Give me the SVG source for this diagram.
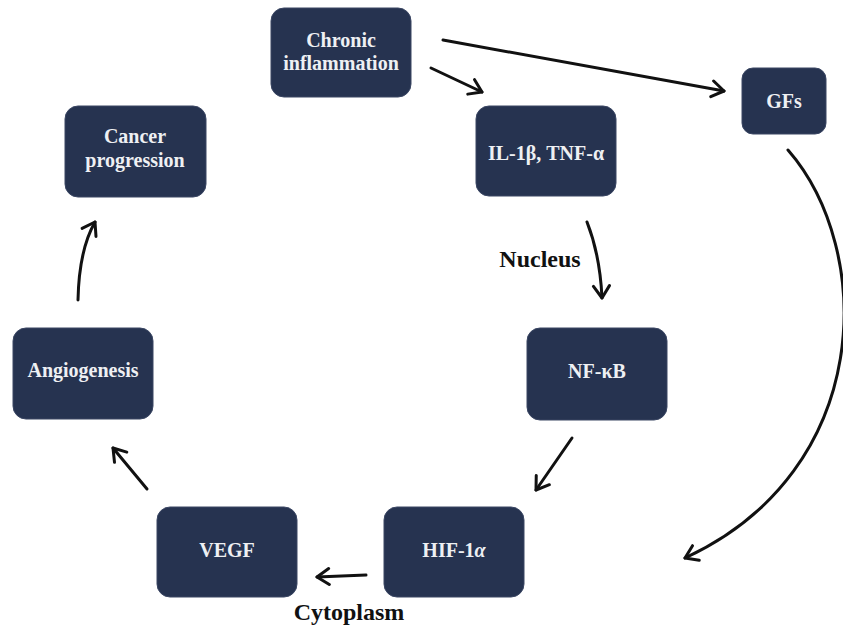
<svg xmlns="http://www.w3.org/2000/svg" width="843" height="631" viewBox="0 0 843 631">
<defs>
<marker id="ah" viewBox="-14 -10 16 20" refX="0" refY="0" markerWidth="16" markerHeight="20" markerUnits="userSpaceOnUse" orient="auto">
<path d="M-12,-8 L0,0 L-12,8" fill="none" stroke="#111" stroke-width="3" stroke-linecap="round" stroke-linejoin="round"/>
</marker>
<style>
.box{fill:#263350;stroke:#3a4663;stroke-width:1}
.t{font-family:"Liberation Serif","Times New Roman",serif;font-weight:bold;font-size:20px;fill:#eef0f3;text-anchor:middle}
.lbl{font-family:"Liberation Serif","Times New Roman",serif;font-weight:bold;font-size:24px;fill:#111;text-anchor:middle}
.c{fill:none;stroke:#111;stroke-width:3;stroke-linecap:round;marker-end:url(#ah)}
</style>
</defs>
<rect width="843" height="631" fill="#fff"/>
<g id="chronic"><rect class="box" x="271" y="8" width="140" height="89" rx="13"/><text class="t" x="341" y="47">Chronic</text><text class="t" x="341" y="70">inflammation</text></g>
<g id="il1"><rect class="box" x="476" y="106" width="140" height="90" rx="13"/><text class="t" x="546" y="160">IL-1β, TNF-α</text></g>
<g id="gfs"><rect class="box" x="742" y="68" width="84" height="66" rx="11"/><text class="t" x="784" y="108">GFs</text></g>
<g id="cancer"><rect class="box" x="65" y="106" width="141" height="91" rx="13"/><text class="t" x="135" y="143">Cancer</text><text class="t" x="135" y="167">progression</text></g>
<g id="angio"><rect class="box" x="13" y="328" width="140" height="91" rx="13"/><text class="t" x="83" y="377">Angiogenesis</text></g>
<g id="nfkb"><rect class="box" x="527" y="328" width="140" height="92" rx="13"/><text class="t" x="597" y="378">NF-κB</text></g>
<g id="vegf"><rect class="box" x="157" y="507" width="140" height="90" rx="13"/><text class="t" x="227" y="557">VEGF</text></g>
<g id="hif"><rect class="box" x="384" y="507" width="140" height="90" rx="13"/><text class="t" x="454" y="557">HIF-1<tspan font-style="italic">α</tspan></text></g>
<g id="labels"><text class="lbl" x="540" y="267">Nucleus</text><text class="lbl" x="349" y="620">Cytoplasm</text></g>
<g id="connectors">
<path class="c" d="M431,68 L482,92"/>
<path class="c" d="M443,40 L724,91"/>
<path class="c" d="M788,150 C875,250 875,470 685,558"/>
<path class="c" d="M587,222 Q600,255 602,298"/>
<path class="c" d="M572,438 L536,490"/>
<path class="c" d="M366,575 L317,577"/>
<path class="c" d="M147,489 L113,448"/>
<path class="c" d="M78,300 Q79,250 95,222"/>
</g>
</svg>
